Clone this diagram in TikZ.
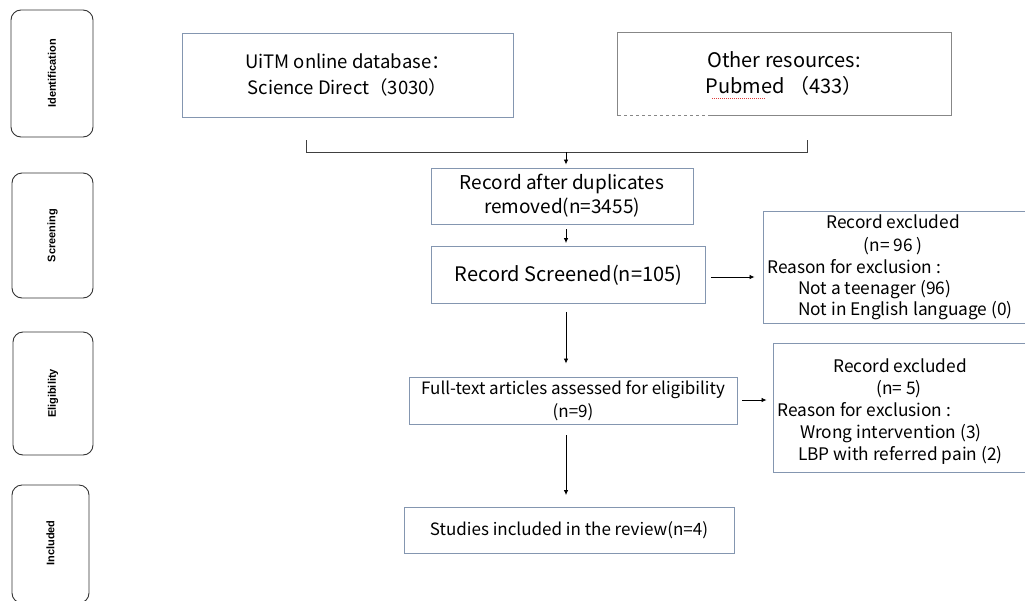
\documentclass[tikz,border=0pt]{standalone}
\usepackage{fontspec}
\setmainfont{Noto Sans CJK SC}
\newfontfamily\sidefont{Liberation Sans}
\usetikzlibrary{arrows.meta}
\definecolor{boxblue}{RGB}{132,150,176}
\definecolor{boxgray}{RGB}{135,135,135}
\definecolor{spellred}{RGB}{220,60,60}
\begin{document}
\begin{tikzpicture}[x=1pt,y=-1pt,
  mainbox/.style={draw=boxblue, line width=0.9pt, rectangle, inner sep=0pt, align=center, font=\fontsize{19}{24}\selectfont},
  sidebox/.style={draw=black!80, line width=0.9pt, rounded corners=10pt, rectangle, inner sep=0pt},
  sidetext/.style={rotate=90, font=\sidefont\bfseries\fontsize{11}{13}\selectfont},
  exttext/.style={anchor=base west, inner sep=0pt, font=\fontsize{17.3}{20}\selectfont},
  extc/.style={anchor=base, inner sep=0pt, font=\fontsize{17.3}{20}\selectfont},
  arr/.style={-{Latex[length=5pt,width=4.5pt]}, line width=0.8pt, black}]
\useasboundingbox (0,0) rectangle (1025,600);
% side boxes
\node[sidebox, minimum width=82pt, minimum height=127pt] (ident) at (52,73.5) {};
\node[sidetext] at (ident.center) {Identification};
\node[sidebox, minimum width=81pt, minimum height=125pt] (scrn) at (52.5,235.5) {};
\node[sidetext] at (scrn.center) {Screening};
\node[sidebox, minimum width=80pt, minimum height=123pt] (elig) at (53,393.5) {};
\node[sidetext] at (elig.center) {Eligibility};
\node[sidebox, minimum width=77pt, minimum height=118pt] (incl) at (50.5,544) {};
\node[sidetext] at (50.5,543) {Included};
% top boxes
\node[mainbox, minimum width=331pt, minimum height=84pt, font=\fontsize{18.5}{26}\selectfont] (uitm) at (347.5,75) {UiTM online database：\\Science Direct（3030）};
\node[mainbox, draw=boxgray, minimum width=334pt, minimum height=83pt, font=\fontsize{20}{26}\selectfont] (other) at (784,73.5) {Other resources:\\Pubmed （433）};
\draw[white, line width=1.2pt, dash pattern=on 3pt off 3pt] (621,115) -- (710,115);
\draw[spellred, line width=0.6pt, dash pattern=on 1pt off 1pt] (712,98) -- (765,98);
% bracket
\coordinate (b1) at (306,140);
\coordinate (b2) at (306,152);
\coordinate (b3) at (807,152);
\coordinate (b4) at (807,140);
\coordinate (bm) at (566,152);
\draw[line width=0.8pt, black!75] (b1) -- (b2) -- (b3) -- (b4);
% flow boxes
\node[mainbox, minimum width=262pt, minimum height=56pt] (dup) at (562,196) {Record after duplicates\\removed(n=3455)};
\node[mainbox, minimum width=274pt, minimum height=57pt, font=\fontsize{20}{24}\selectfont] (scr) at (568.5,275) {Record Screened(n=105)};
\node[mainbox, minimum width=328pt, minimum height=47pt, font=\fontsize{17}{23}\selectfont] (full) at (573,400.5) {Full-text articles assessed for eligibility\\(n=9)};
\node[mainbox, minimum width=330pt, minimum height=46pt, font=\fontsize{17}{20}\selectfont] (stud) at (569,530.5) {Studies included in the review(n=4)};
% exclusion boxes
\node[mainbox, minimum width=266pt, minimum height=112pt] (ex1) at (896,267) {};
\node[extc] at (893,228) {Record excluded};
\node[extc] at (893,251) {(n= 96 )};
\node[exttext] at (767,273) {Reason for exclusion :};
\node[exttext] at (798,294) {Not a teenager (96)};
\node[exttext] at (798,315) {Not in English language (0)};
\node[mainbox, minimum width=256pt, minimum height=129pt] (ex2) at (901,407.5) {};
\node[extc] at (900,372) {Record excluded};
\node[extc] at (899,394) {(n= 5)};
\node[exttext] at (777,416) {Reason for exclusion :};
\node[exttext] at (800,438) {Wrong intervention (3)};
\node[exttext] at (798,460) {LBP with referred pain (2)};
% connectors
\coordinate (mx) at (566,0);
\draw[arr, shorten >=3pt] (bm) -- (dup.north -| mx);
\draw[arr, shorten <=5pt, shorten >=3pt] (dup.south -| mx) -- (scr.north -| mx);
\draw[arr, shorten <=5pt, shorten >=8pt] (scr.east |- 0,277) -- (ex1.west |- 0,277);
\draw[arr, shorten <=8pt, shorten >=13pt] (scr.south -| mx) -- (full.north -| mx);
\draw[arr, shorten <=5pt, shorten >=6pt] (full.east |- 0,400) -- (ex2.west |- 0,400);
\draw[arr, shorten <=11pt, shorten >=12pt] (full.south -| mx) -- (stud.north -| mx);
\end{tikzpicture}
\end{document}
